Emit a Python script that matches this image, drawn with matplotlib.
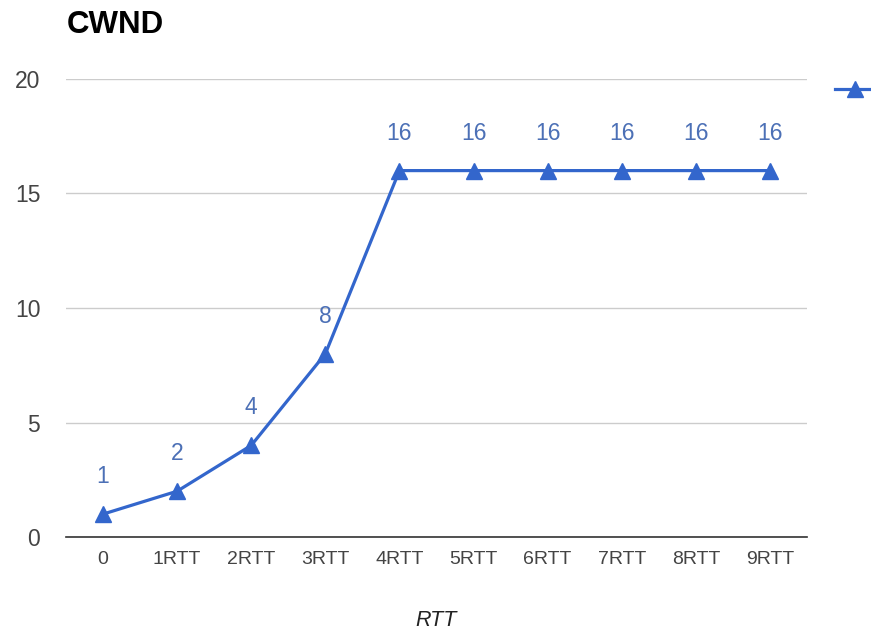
import matplotlib
matplotlib.use("Agg")
import matplotlib.pyplot as plt
from matplotlib.lines import Line2D

categories = ["0", "1RTT", "2RTT", "3RTT", "4RTT", "5RTT", "6RTT", "7RTT", "8RTT", "9RTT"]
cwnd = [1, 2, 4, 8, 16, 16, 16, 16, 16, 16]
y_ticks = [0, 5, 10, 15, 20]

BLUE = "#3366CC"
LABEL_BLUE = "#4c70b6"
plt.rcParams['font.family'] = ['Liberation Sans', 'DejaVu Sans']

fig = plt.figure(figsize=(8.71, 6.36), dpi=100)
ax = fig.add_axes([66/871, 1-537/636, 741/871, (537-79)/636])

x = list(range(len(categories)))
ax.plot(x, cwnd, color=BLUE, lw=2.3, marker='^', markersize=12, clip_on=False, zorder=3)
for xi, v in zip(x, cwnd):
    ax.annotate(str(v), (xi, v), xytext=(0, 27), textcoords='offset points',
                ha='center', va='center', color=LABEL_BLUE, fontsize=16.5)

ax.set_xlim(-0.5, len(categories) - 0.5)
ax.set_ylim(0, 20)
ax.set_yticks(y_ticks)
ax.set_xticks(x)
ax.set_xticklabels(categories)
ax.tick_params(axis='both', length=0, colors='#444444')
ax.tick_params(axis='y', pad=18.5, labelsize=16.5)
ax.tick_params(axis='x', pad=10, labelsize=14)
ax.grid(axis='y', color='#cccccc', lw=1)
ax.set_axisbelow(True)
for s in ['top', 'right', 'left']:
    ax.spines[s].set_visible(False)
ax.spines['bottom'].set_color('#333333')
ax.spines['bottom'].set_linewidth(1.2)
ax.spines['bottom'].set_zorder(2.5)

ax.set_xlabel("RTT", fontstyle='italic', color='#222222', fontsize=15.5, labelpad=30)

fig.text(67/871, 1-25/636, "CWND", fontsize=22.5, fontweight='bold', ha='left', va='center', color='#000000')

# legend (cut off at right edge as in original)
fig.add_artist(Line2D([835/871, 900/871], [1-89/636, 1-89/636], color=BLUE, lw=2.3,
                      transform=fig.transFigure))
fig.add_artist(Line2D([855/871], [1-89/636], color=BLUE, marker='^', markersize=12, lw=0,
                      transform=fig.transFigure))

fig.savefig("out.png", dpi=100)
